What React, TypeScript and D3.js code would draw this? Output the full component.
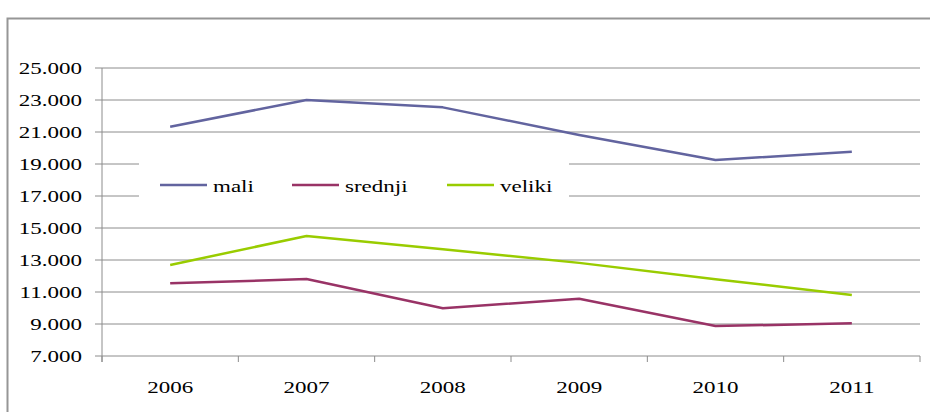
import * as d3 from 'd3';
import { useEffect } from 'react';

// godine na osi X
const YEARS = ['2006', '2007', '2008', '2009', '2010', '2011'];
// vrijednosti po veličini poduzeća
const MALI = [21330, 23000, 22540, 20810, 19250, 19770];
const SREDNJI = [11540, 11810, 9980, 10580, 8870, 9040];
const VELIKI = [12690, 14500, 13670, 12820, 11800, 10810];
const Y_TICKS = [7000, 9000, 11000, 13000, 15000, 17000, 19000, 21000, 23000, 25000];

const SERIES = [
  { name: 'mali', values: MALI, color: '#62649f' },
  { name: 'srednji', values: SREDNJI, color: '#993366' },
  { name: 'veliki', values: VELIKI, color: '#99cc00' },
];

const W = 930;
const H = 412;
const PLOT = { left: 102, right: 920, top: 68, bottom: 356 };
const FONT = "'Liberation Serif'";
const FS = 17.7;
const SX = 1.3; // the source is stretched horizontally

const fmt = d3.formatLocale({ decimal: ',', thousands: '.', grouping: [3], currency: ['', ''] }).format(',');

export default function App() {
  useEffect(() => {
    document.body.style.margin = '0';
  }, []);

  const x = d3.scaleBand<string>().domain(YEARS).range([PLOT.left, PLOT.right]);
  const y = d3.scaleLinear().domain([7000, 25000]).range([PLOT.bottom, PLOT.top]);
  const cx = (yr: string) => (x(yr) ?? 0) + x.bandwidth() / 2;

  const line = d3
    .line<number>()
    .x((_, i) => cx(YEARS[i]))
    .y(d => y(d));

  // legend slots
  const legend = [
    { lx: 160, tx: 213 },
    { lx: 292, tx: 345 },
    { lx: 447, tx: 500 },
  ];
  const legY = 185;

  const label = (tx: number, ty: number, text: string, anchor: string) => (
    <text
      transform={`translate(${tx},${ty}) scale(${SX},1)`}
      textAnchor={anchor}
      style={{ fontFamily: FONT, fontSize: FS }}
      fill="#000"
    >
      {text}
    </text>
  );

  const boundaries = YEARS.map(yr => x(yr) ?? 0).concat([PLOT.right]);

  return (
    <svg width={W} height={H} style={{ display: 'block', background: '#fff' }}>
      {/* outer frame */}
      <rect x={7.5} y={18.5} width={W + 20} height={H + 20} fill="none" stroke="#969696" strokeWidth={2} />

      {/* gridlines */}
      {Y_TICKS.map(t => (
        <line key={t} x1={95} x2={PLOT.right} y1={y(t)} y2={y(t)} stroke="#8c8c8c" strokeWidth={1} />
      ))}

      {/* y axis */}
      <line x1={PLOT.left} x2={PLOT.left} y1={PLOT.top} y2={PLOT.bottom + 6} stroke="#8c8c8c" strokeWidth={1} />
      {/* x ticks */}
      {boundaries.map((b, i) => (
        <line key={i} x1={b} x2={b} y1={PLOT.bottom} y2={PLOT.bottom + 6} stroke="#8c8c8c" strokeWidth={1} />
      ))}

      {/* y labels */}
      {Y_TICKS.map(t => (
        <g key={t}>{label(82, y(t) + 6, fmt(t), 'end')}</g>
      ))}

      {/* x labels */}
      {YEARS.map(yr => (
        <g key={yr}>{label(cx(yr), 392.5, yr, 'middle')}</g>
      ))}

      {/* legend background */}
      <rect x={139} y={158} width={430} height={44} fill="#fff" />

      {/* series */}
      {SERIES.map(s => (
        <path key={s.name} d={line(s.values) ?? ''} fill="none" stroke={s.color} strokeWidth={2.5} strokeLinejoin="round" />
      ))}

      {/* legend */}
      {SERIES.map((s, i) => (
        <g key={s.name}>
          <line x1={legend[i].lx} x2={legend[i].lx + 47} y1={legY} y2={legY} stroke={s.color} strokeWidth={2.5} />
          {label(legend[i].tx, 192, s.name, 'start')}
        </g>
      ))}
    </svg>
  );
}
